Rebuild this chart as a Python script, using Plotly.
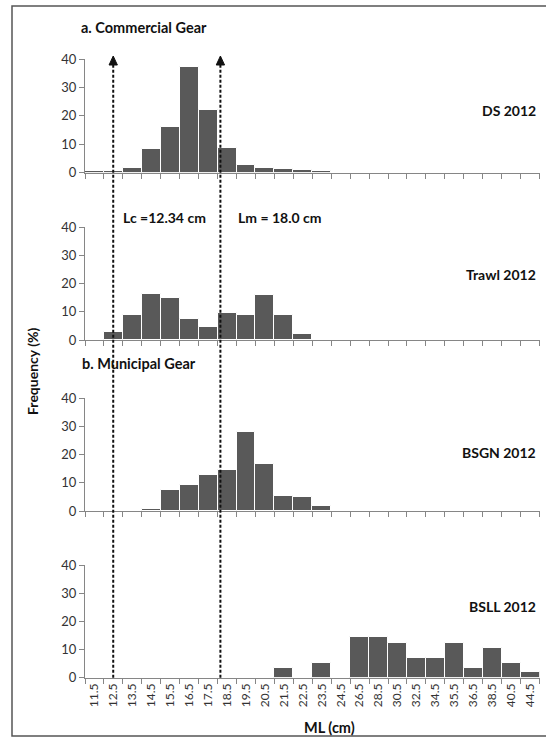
import plotly.graph_objects as go

# Mantle length classes (cm)
ml_classes = ["11.5", "12.5", "13.5", "14.5", "15.5", "16.5", "17.5", "18.5",
              "19.5", "20.5", "21.5", "22.5", "23.5", "24.5", "26.5", "28.5",
              "30.5", "32.5", "34.5", "35.5", "36.5", "38.5", "40.5", "44.5"]

# Frequency (%) by gear
ds_2012 = [0.6, 0.6, 1.8, 8.4, 16.0, 37.2, 21.9, 8.8, 2.8, 1.6, 1.3, 0.9,
           0.6, 0, 0, 0, 0, 0, 0, 0, 0, 0, 0, 0]
trawl_2012 = [0, 2.7, 8.7, 16.2, 14.7, 7.6, 4.5, 9.6, 8.7, 15.8, 8.7, 2.0,
              0, 0, 0, 0, 0, 0, 0, 0, 0, 0, 0, 0]
bsgn_2012 = [0, 0, 0, 0.6, 7.3, 9.2, 12.6, 14.4, 27.8, 16.6, 5.4, 5.1,
             1.8, 0, 0, 0, 0, 0, 0, 0, 0, 0, 0, 0]
bsll_2012 = [0, 0, 0, 0, 0, 0, 0, 0, 0, 0, 3.5, 0, 5.3, 0, 14.3, 14.3,
             12.4, 7.1, 7.1, 12.4, 3.4, 10.6, 5.2, 2.0]

series = [("DS 2012", ds_2012), ("Trawl 2012", trawl_2012),
          ("BSGN 2012", bsgn_2012), ("BSLL 2012", bsll_2012)]

y_ticks = [0, 10, 20, 30, 40]
lc_value = 12.34   # length at first capture
lm_value = 18.0    # length at maturity

W, H = 546, 738
FONT = "Lato"
TXT = "#111111"
AXC = "#868686"


def px_x(p):
    return p / W


def px_y(p):
    return 1 - p / H


# plot-area placement (pixel rows of 40 and 0 for each panel)
panel_rows = [(59, 172.7), (227, 340), (398, 511), (565, 677.7)]
x_dom = [px_x(85), px_x(539.5)]

fig = go.Figure()
for i, (name, vals) in enumerate(series):
    k = "" if i == 0 else str(i + 1)
    fig.add_trace(go.Bar(
        x=ml_classes, y=vals, name=name,
        xaxis="x" + k, yaxis="y" + k,
        marker=dict(color="#595959", line=dict(color="white", width=1)),
        showlegend=False,
    ))
    top, bot = panel_rows[i]
    fig.layout["xaxis" + k] = dict(
        domain=x_dom, anchor="y" + k, type="category",
        categoryorder="array", categoryarray=ml_classes,
        range=[-0.5, len(ml_classes) - 0.5],
        showline=True, linecolor=AXC, linewidth=1,
        ticks="outside", tickson="boundaries", ticklen=5, tickcolor=AXC,
        showticklabels=(i == 3), tickangle=-90,
        tickfont=dict(family=FONT, size=12, color="#333333"),
        showgrid=False, zeroline=False, fixedrange=True, automargin=False,
        matches=None if i == 0 else "x",
    )
    fig.layout["yaxis" + k] = dict(
        domain=[px_y(bot), px_y(top)], anchor="x" + k,
        range=[0, 40], tickvals=y_ticks,
        showline=True, linecolor=AXC, linewidth=1,
        ticks="outside", ticklen=5, tickcolor=AXC,
        tickfont=dict(family=FONT, size=13, color="#333333"),
        showgrid=False, zeroline=False, fixedrange=True, automargin=False,
    )

# positions of Lc and Lm on the category axis
bin_offset = 11.35
shapes = []
y_bottom = px_y(677.7)
y_top = px_y(64)
for v in (lc_value, lm_value):
    pos = v - bin_offset
    shapes.append(dict(type="line", xref="x", yref="paper",
                       x0=pos, x1=pos, y0=y_bottom, y1=y_top,
                       line=dict(color="#111111", width=2, dash="3px,2px")))
    hw = 0.22
    shapes.append(dict(type="path", xref="x", yref="paper",
                       path=f"M {pos - hw},{px_y(65)} L {pos + hw},{px_y(65)} "
                            f"L {pos},{px_y(56)} Z",
                       fillcolor="#111111", line=dict(color="#111111", width=1)))

# outer frame
shapes.append(dict(type="rect", xref="paper", yref="paper",
                   x0=px_x(12), x1=1.02, y0=px_y(736), y1=px_y(6),
                   line=dict(color="#555555", width=1.5)))

annotations = []


def label(text, x, y, xanchor="left", size=14, **kw):
    annotations.append(dict(
        text=f"<b>{text}</b>", xref="paper", yref="paper",
        x=px_x(x), y=px_y(y), xanchor=xanchor, yanchor="middle",
        showarrow=False, font=dict(family=FONT, size=size, color=TXT), **kw))


label("a. Commercial Gear", 79, 28, size=14.5)
label("b. Municipal Gear", 80, 363, size=14.5)
label(f"Lc ={lc_value:.2f} cm", 121, 218)
label(f"Lm = {lm_value:.1f} cm", 236, 218)
label("DS 2012", 538, 111, xanchor="right", size=14)
label("Trawl 2012", 538, 274, xanchor="right", size=14)
label("BSGN 2012", 538, 452, xanchor="right", size=14)
label("BSLL 2012", 538, 606, xanchor="right", size=14)
label("ML (cm)", 329, 727, xanchor="center", size=14.5)
label("Frequency (%)", 32, 371, xanchor="center", textangle=-90)

fig.update_layout(
    width=W, height=H,
    margin=dict(l=0, r=0, t=0, b=0),
    paper_bgcolor="white", plot_bgcolor="white",
    bargap=0, shapes=shapes, annotations=annotations,
    font=dict(family=FONT),
)

fig.write_html("out.html")
